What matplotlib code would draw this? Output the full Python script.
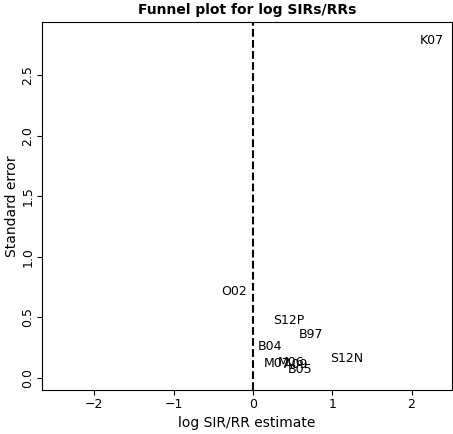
import matplotlib.pyplot as plt

labels = ["K07", "O02", "S12P", "B97", "B04", "M07", "M06", "A09", "B05", "S12N"]
log_est = [2.26, -0.24, 0.45, 0.73, 0.21, 0.30, 0.48, 0.55, 0.60, 1.18]
std_err = [2.79, 0.71, 0.47, 0.36, 0.26, 0.12, 0.13, 0.11, 0.07, 0.16]

fig = plt.figure(figsize=(4.53, 4.34), dpi=100)
ax = fig.add_axes([42 / 453, 44 / 434, 410 / 453, 368 / 434])

for lab, x, y in zip(labels, log_est, std_err):
    ax.text(x, y, lab, ha="center", va="center", fontsize=9)

ax.axvline(0, color="black", linestyle="--", linewidth=1.5)
ax.set_xlim(-2.66, 2.51)
ax.set_ylim(-0.1, 2.94)
ax.set_xticks([-2, -1, 0, 1, 2])
ax.set_yticks([0, 0.5, 1.0, 1.5, 2.0, 2.5])
ax.set_yticklabels(["0.0", "0.5", "1.0", "1.5", "2.0", "2.5"], rotation=90, va="center")
ax.tick_params(labelsize=9, pad=2)
ax.set_xlabel("log SIR/RR estimate", fontsize=10)
ax.set_ylabel("Standard error", fontsize=10, labelpad=2)
ax.set_title("Funnel plot for log SIRs/RRs", fontdict={"fontweight": "bold", "fontsize": 10})

plt.savefig("out.png", dpi=100)
plt.close()
